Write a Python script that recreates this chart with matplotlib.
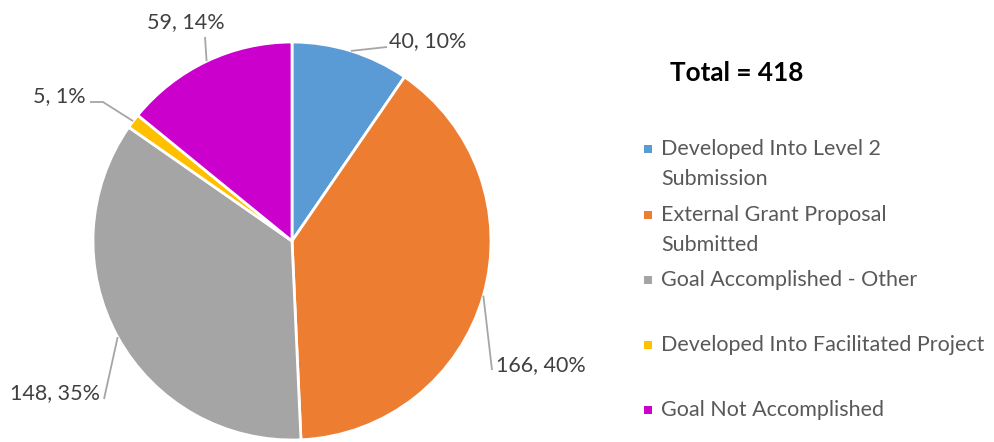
import numpy as np
import matplotlib
matplotlib.use("Agg")
import matplotlib.pyplot as plt

plt.rcParams['font.family'] = ['Lato', 'DejaVu Sans']

categories = ["Developed Into Level 2\nSubmission",
              "External Grant Proposal\nSubmitted",
              "Goal Accomplished - Other",
              "Developed Into Facilitated Project",
              "Goal Not Accomplished"]
counts = [40, 166, 148, 5, 59]
percents = ["10%", "40%", "35%", "1%", "14%"]
colors = ["#5B9BD5", "#ED7D31", "#A5A5A5", "#FFC000", "#CC00CC"]

W, H = 994, 442
fig = plt.figure(figsize=(W / 100, H / 100), dpi=100)
ax = fig.add_axes([0, 0, 1, 1])


def py(y):
    # pixel row (from top) -> data y
    return H - y


cx, cy, r = 292, py(241), 199
wedges, _ = ax.pie(counts, colors=colors, startangle=90, counterclock=False,
                   center=(cx, cy), radius=r, frame=True,
                   wedgeprops=dict(edgecolor="white", linewidth=2))
ax.set_xlim(0, W)
ax.set_ylim(0, H)
ax.axis("off")

# label placement: (text x, text y, ha, extra leader points) in pixels
label_pos = [
    (389, 41, "left", [(387, 47)]),
    (496, 365, "left", [(492, 370)]),
    (100, 393, "right", [(104, 399)]),
    (86, 96, "right", [(103, 102), (90, 102)]),
    (186, 22, "center", [(205, 37)]),
]

fs = 15.5
line_col = "#A6A6A6"
for w, n, p, (tx, ty, ha, pts) in zip(wedges, counts, percents, label_pos):
    mid = np.deg2rad((w.theta1 + w.theta2) / 2)
    sx, sy = cx + r * np.cos(mid), cy + r * np.sin(mid)
    xs = [sx] + [q[0] for q in pts]
    ys = [sy] + [py(q[1]) for q in pts]
    ax.plot(xs, ys, color=line_col, lw=1.3, solid_capstyle="butt")
    ax.text(tx, py(ty), f"{n}, {p}", ha=ha, va="center", fontsize=fs,
            color="#404040")

# total
ax.text(670, py(73), f"Total = {sum(counts)}", ha="left", va="center",
        fontsize=18.8, fontweight="bold", color="black")

# legend
leg_y = [149, 215, 280, 345, 410]
for lab, c, y in zip(categories, colors, leg_y):
    ax.add_patch(plt.Rectangle((644, py(y) - 4), 8, 8, color=c, lw=0))
    ax.text(661, py(y) + 10, lab, ha="left", va="top", fontsize=fs,
            color="#595959", linespacing=1.62)

fig.savefig("out.png", dpi=100)
